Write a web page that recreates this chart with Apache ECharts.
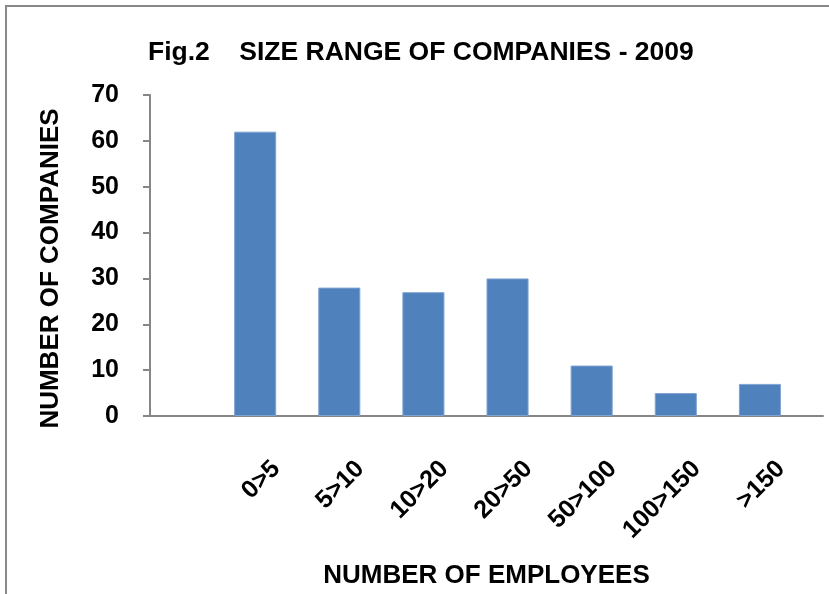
<!DOCTYPE html>
<html>
<head>
<meta charset="utf-8">
<script src="https://cdn.jsdelivr.net/npm/echarts@6/dist/echarts.min.js"></script>
<style>
  html, body { margin: 0; padding: 0; background: #fff; }
  #main { width: 829px; height: 594px; }
</style>
</head>
<body>
<div id="main"></div>
<script>
// first slot is left empty in the original sheet
var categories = ['', '0>5', '5>10', '10>20', '20>50', '50>100', '100>150', '>150'];
var companies = [null, 62, 28, 27, 30, 11, 5, 7];
// second (empty) series of the original clustered chart
var emptySeries = [null, null, null, null, null, null, null, null];
var yTicks = [0, 10, 20, 30, 40, 50, 60, 70];

var font = 'Liberation Sans';
var chart = echarts.init(document.getElementById('main'));

var option = {
  animation: false,
  title: {
    text: 'Fig.2    SIZE RANGE OF COMPANIES - 2009',
    left: 143,
    top: 34,
    textStyle: { fontFamily: font, fontWeight: 'bold', fontSize: 26.5, color: '#000' }
  },
  graphic: [{
    type: 'rect',
    shape: { x: 6, y: 6, width: 900, height: 700 },
    style: { fill: null, stroke: '#898989', lineWidth: 2 },
    silent: true
  }],
  grid: { left: 150, right: 6, top: 95, bottom: 176 },
  xAxis: {
    type: 'category',
    data: categories,
    name: 'NUMBER OF EMPLOYEES',
    nameLocation: 'middle',
    nameGap: 147,
    nameTextStyle: { fontFamily: font, fontWeight: 'bold', fontSize: 26, color: '#000' },
    axisLine: { lineStyle: { color: '#868686', width: 2 } },
    axisTick: { show: false },
    axisLabel: {
      interval: 0,
      rotate: 45,
      margin: 49,
      fontFamily: font,
      fontWeight: 'bold',
      fontSize: 25,
      color: '#000'
    }
  },
  yAxis: {
    type: 'value',
    min: yTicks[0],
    max: yTicks[yTicks.length - 1],
    interval: 10,
    name: 'NUMBER OF COMPANIES',
    nameLocation: 'middle',
    nameGap: 86,
    nameTextStyle: { fontFamily: font, fontWeight: 'bold', fontSize: 26, color: '#000', padding: [0, 26, 0, 0] },
    splitLine: { show: false },
    axisLine: { show: true, lineStyle: { color: '#868686', width: 2 } },
    axisTick: { show: true, length: 7, lineStyle: { color: '#868686', width: 2 } },
    axisLabel: {
      margin: 31,
      fontFamily: font,
      fontWeight: 'bold',
      fontSize: 25,
      color: '#000'
    }
  },
  series: [
    {
      name: 'Companies',
      type: 'bar',
      data: companies,
      barGap: '0%',
      barCategoryGap: '0%',
      itemStyle: { color: '#4F81BD', borderColor: '#7fa3d0', borderWidth: 1 }
    },
    {
      name: 'Empty',
      type: 'bar',
      data: emptySeries,
      barGap: '0%',
      barCategoryGap: '0%'
    }
  ]
};

chart.setOption(option);
</script>
</body>
</html>
